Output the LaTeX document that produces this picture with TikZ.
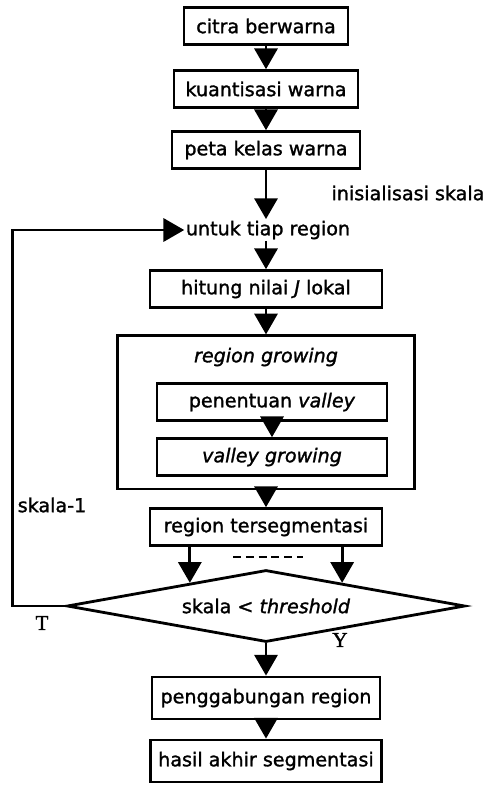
\documentclass[tikz,border=0pt]{standalone}
\usepackage{fontspec}
\setmainfont{DejaVu Sans}[FakeBold=1.4]
\newfontfamily\labelserif{Liberation Serif}[FakeBold=1.4]
\usepackage{tikz}
\usetikzlibrary{shapes.geometric, arrows.meta, calc}

\begin{document}
\begin{tikzpicture}[
    procbox/.style={draw, line width=2pt, minimum height=0.92cm, inner xsep=0.2cm, font=\fontsize{13.6}{15}\selectfont},
    plain/.style={font=\fontsize{13.6}{15}\selectfont, inner sep=1pt},
    flow/.style={line width=2pt, -{Triangle[length=0.52cm, width=0.58cm]}},
    yn/.style={font=\labelserif\fontsize{15}{17}\selectfont}
]
    \useasboundingbox (0,0) rectangle (12.1,-19.675);

    % Top chain
    \node[procbox, minimum width=4.1cm] (citra) at (6.65,-0.65) {citra berwarna};
    \node[procbox, minimum width=4.6cm] (kuant) at (6.65,-2.225) {kuantisasi warna};
    \node[procbox, minimum width=4.7cm] (peta) at (6.65,-3.75) {peta kelas warna};
    \node[plain] (init) at (10.2,-4.825) {inisialisasi skala};
    \node[plain] (untuk) at (6.7,-5.75) {untuk tiap region};
    \node[procbox, minimum width=5.8cm] (hitung) at (6.65,-7.225) {hitung nilai \textit{J} lokal};

    % Region growing block
    \node[procbox, minimum width=7.43cm, minimum height=3.83cm] (rgbox) at (6.65,-10.31) {};
    \node[plain] (rglabel) at (6.65,-8.925) {\textit{region growing}};
    \node[procbox, minimum width=5.75cm] (tentu) at (6.8,-10.05) {penentuan \textit{valley}};
    \node[procbox, minimum width=5.75cm] (vgrow) at (6.8,-11.425) {\textit{valley growing}};

    % Result and decision
    \node[procbox, minimum width=5.8cm] (terseg) at (6.65,-13.175) {region tersegmentasi};
    \node[plain] (minus) at (1.3,-12.625) {skala-1};
    \node[draw, diamond, aspect=5.5, line width=2pt, inner sep=0pt, minimum width=9.95cm, minimum height=1.8cm,
          font=\fontsize{13.6}{15}\selectfont] (diam) at (6.65,-15.15) {skala < \textit{threshold}};
    \node[yn] (tlabel) at (1.05,-15.575) {T};
    \node[yn] (ylabel) at (8.5,-16.0) {Y};

    % Bottom chain
    \node[procbox, minimum width=5.7cm, minimum height=1.05cm] (gabung) at (6.65,-17.45) {penggabungan region};
    \node[procbox, minimum width=5.7cm, minimum height=1.05cm] (hasil) at (6.65,-19.025) {hasil akhir segmentasi};

    % Arrows
    \draw[flow] (citra) -- (kuant);
    \draw[flow] (kuant) -- (peta);
    \draw[flow] (peta) -- (untuk.north -| peta);
    \draw[flow] (untuk.south -| hitung) -- (hitung);
    \draw[flow] (hitung) -- (rgbox);
    \draw[flow] (tentu) -- (vgrow);
    \draw[flow] (rgbox) -- (terseg);

    % Two branches into the diamond
    \coordinate (dl) at ($(diam.west)!0.62!(diam.north)$);
    \coordinate (dr) at ($(diam.north)!0.38!(diam.east)$);
    \draw[flow] (terseg.south -| dl) -- (dl);
    \draw[flow] (terseg.south -| dr) -- (dr);
    \draw[line width=2pt, dash pattern=on 0.2cm off 0.12cm] (5.825,-13.925) -- (7.575,-13.925);

    \draw[flow] (diam) -- (gabung);
    \draw[flow] (gabung) -- (hasil);

    % Feedback loop
    \draw[flow] (diam.west) -- ++(-1.32,0) |- (untuk.west);
\end{tikzpicture}
\end{document}
